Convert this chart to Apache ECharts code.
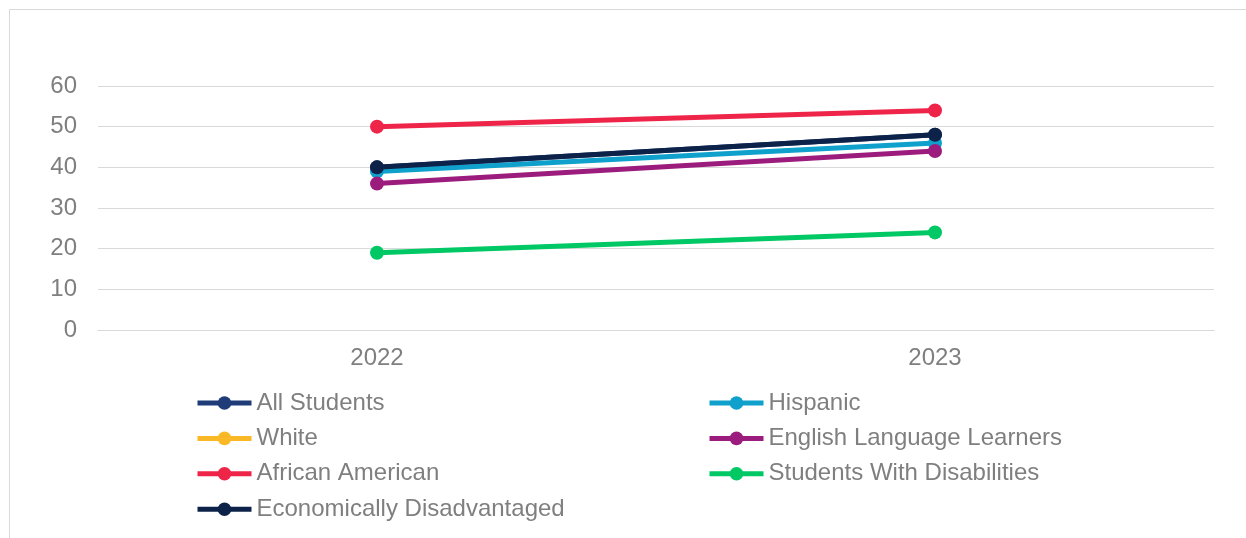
<!DOCTYPE html>
<html><head><meta charset="utf-8">
<script src="https://cdn.jsdelivr.net/npm/echarts@6/dist/echarts.min.js"></script>
<style>html,body{margin:0;padding:0;background:#fff}#c{width:1246px;height:538px}</style>
</head><body><div id="c"></div>
<script>
const categories = ['2022', '2023'];
const allStudents = [40, 48];
const hispanic = [39, 46];
const white = [null, null];
const ell = [36, 44];
const africanAmerican = [50, 54];
const swd = [19, 24];
const econDisadv = [40, 48];
const yTicks = [0, 10, 20, 30, 40, 50, 60];

const seriesDefs = [
  ['All Students', allStudents, '#1F3C78'],
  ['Hispanic', hispanic, '#0FA0CC'],
  ['White', white, '#FBB826'],
  ['English Language Learners', ell, '#9C1C7E'],
  ['African American', africanAmerican, '#EE2449'],
  ['Students With Disabilities', swd, '#00C864'],
  ['Economically Disadvantaged', econDisadv, '#0C2249']
];

const chart = echarts.init(document.getElementById('c'));
const FONT = 'Liberation Sans, Arial';
const legendBase = {
  orient: 'vertical', top: 391, padding: 0, itemWidth: 54, itemHeight: 17, itemGap: 11.4,
  lineStyle: { width: 5 },
  textStyle: { fontFamily: FONT, fontSize: 24, color: '#7F7F7F', lineHeight: 24 }
};
chart.setOption({
  animation: false,
  textStyle: { fontFamily: FONT },
  graphic: [{ type: 'rect', shape: { x: 9.5, y: 9.5, width: 1400, height: 700 }, style: { fill: 'none', stroke: '#D9D9D9', lineWidth: 1 } }],
  grid: { left: 98, right: 32, top: 86, bottom: 208 },
  legend: [
    Object.assign({}, legendBase, { left: 195, data: ['All Students', 'White', 'African American', 'Economically Disadvantaged'] }),
    Object.assign({}, legendBase, { left: 707, data: ['Hispanic', 'English Language Learners', 'Students With Disabilities'] })
  ],
  xAxis: {
    type: 'category', data: categories, boundaryGap: true,
    axisLine: { lineStyle: { color: '#D9D9D9', width: 1 } }, axisTick: { show: false },
    axisLabel: { color: '#7F7F7F', fontSize: 24, margin: 16, fontFamily: FONT }
  },
  yAxis: {
    type: 'value', min: yTicks[0], max: yTicks[yTicks.length - 1], interval: 10,
    axisLine: { show: false }, axisTick: { show: false },
    axisLabel: { color: '#7F7F7F', fontSize: 24, margin: 21, fontFamily: FONT },
    splitLine: { lineStyle: { color: '#D9D9D9', width: 1 } }
  },
  series: seriesDefs.map(([name, data, color]) => ({
    name, type: 'line', data, color, symbol: 'circle', symbolSize: 14,
    lineStyle: { width: 5, color }, itemStyle: { color }, connectNulls: false
  }))
});
</script></body></html>
